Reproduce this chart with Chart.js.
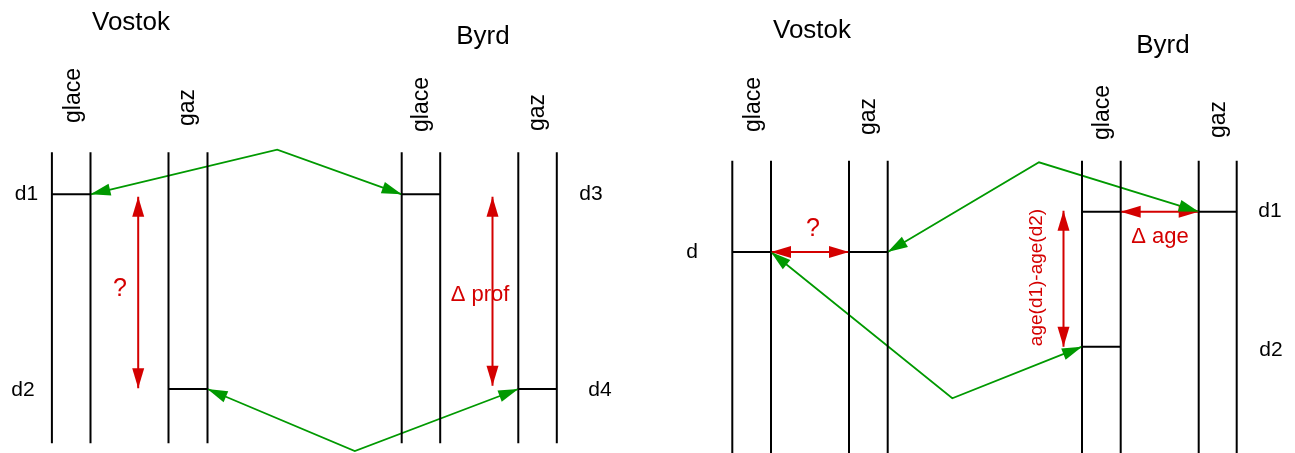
<!DOCTYPE html>
<html><head><meta charset="utf-8">
<script src="https://cdn.jsdelivr.net/npm/chart.js@4/dist/chart.umd.min.js"></script>
<style>html,body{margin:0;padding:0;background:#fff;overflow:hidden}#wrap{width:1295px;height:453px;position:relative}</style>
</head><body><div id="wrap"><canvas id="c" width="1295" height="453"></canvas></div>
<script>
// ---- diagram data (in diagram units: x across, y = depth downward) ----
const coresLeft = [51.9, 90.5, 168.5, 207.5, 401.7, 440.2, 518.3, 556.8];
const coresRight = [732.3, 771, 849, 887.7, 1082, 1120.7, 1198.7, 1236.7];
const coreSpanLeft = [152.3, 443.3];
const coreSpanRight = [160.7, 453];
// depth markers: [x1, x2, depth]
const markersLeft = [[51.9, 90.5, 194.3], [401.7, 440.2, 194.3], [168.5, 207.5, 389], [518.3, 556.8, 389]];
const markersRight = [[732.3, 771, 252], [849, 887.7, 252], [1082, 1120.7, 211.7], [1198.7, 1236.7, 211.7], [1082, 1120.7, 346.7]];
// green correlation paths (arrow at both ends)
const greenPaths = [
  [[90.5, 194.3], [277.2, 149.7], [401.7, 194.3]],
  [[207.5, 389], [354.8, 451], [518.3, 389]],
  [[887.7, 252], [1039, 162.3], [1198.7, 211.7]],
  [[771, 252], [952.3, 398.3], [1082, 346.7]]
];
// red double arrows
const redArrows = [
  [[138.2, 196.7], [138.2, 388.3]],
  [[492.5, 196.7], [492.5, 385.7]],
  [[771, 252], [849, 252]],
  [[1120.7, 211.7], [1198.7, 211.7]],
  [[1063.5, 210.7], [1063.5, 346.7]]
];
// text labels
const titleLabels = [['Vostok', 131, 30], ['Byrd', 483, 44], ['Vostok', 812, 38], ['Byrd', 1163, 53]];
const columnLabels = [['glace', 80, 123], ['gaz', 194, 126], ['glace', 428, 132], ['gaz', 544, 131],
                      ['glace', 759.5, 132], ['gaz', 875.3, 135], ['glace', 1108.5, 140], ['gaz', 1224.7, 138]];
const depthLabels = [['d1', 26.5, 194.5], ['d2', 23, 390], ['d3', 591, 194.5], ['d4', 600, 390],
                     ['d', 692, 252.5], ['d1', 1270, 211], ['d2', 1271, 350]];
const redLabels = [['?', 120, 289], ['\u0394 prof', 480, 295], ['?', 813, 229], ['\u0394 age', 1160, 236.5]];
const redRotLabels = [['age(d1)-age(d2)', 1041.5, 277.5]];

const BLACK = '#000000', GREEN = '#009900', RED = '#d40000';
const FONT = '"Liberation Sans", Arial, Helvetica, sans-serif';

const datasets = [];
function seg(points, color, width) {
  datasets.push({
    data: points.map(p => ({x: p[0], y: p[1]})),
    showLine: true, borderColor: color, borderWidth: width,
    pointRadius: 0, fill: false, tension: 0
  });
}
coresLeft.forEach(x => seg([[x, coreSpanLeft[0]], [x, coreSpanLeft[1]]], BLACK, 2));
coresRight.forEach(x => seg([[x, coreSpanRight[0]], [x, coreSpanRight[1]]], BLACK, 2));
markersLeft.concat(markersRight).forEach(m => seg([[m[0], m[2]], [m[1], m[2]]], BLACK, 2));
redArrows.forEach(a => seg(a, RED, 2));
greenPaths.forEach(p => seg(p, GREEN, 1.8));

function head(ctx, tip, from, color) {
  const dx = tip[0] - from[0], dy = tip[1] - from[1];
  const L = Math.hypot(dx, dy), ux = dx / L, uy = dy / L;
  const len = 20, hw = 6;
  const bx = tip[0] - ux * len, by = tip[1] - uy * len;
  ctx.beginPath();
  ctx.moveTo(tip[0], tip[1]);
  ctx.lineTo(bx - uy * hw, by + ux * hw);
  ctx.lineTo(bx + uy * hw, by - ux * hw);
  ctx.closePath();
  ctx.fillStyle = color;
  ctx.fill();
}

const decor = {
  id: 'decor',
  afterDatasetsDraw(chart) {
    const ctx = chart.ctx, sx = chart.scales.x, sy = chart.scales.y;
    const P = p => [sx.getPixelForValue(p[0]), sy.getPixelForValue(p[1])];
    ctx.save();
    redArrows.forEach(a => {
      const p0 = P(a[0]), p1 = P(a[1]);
      head(ctx, p0, p1, RED); head(ctx, p1, p0, RED);
    });
    greenPaths.forEach(p => {
      const n = p.length;
      head(ctx, P(p[0]), P(p[1]), GREEN);
      head(ctx, P(p[n - 1]), P(p[n - 2]), GREEN);
    });
    // texts
    ctx.fillStyle = BLACK;
    ctx.textAlign = 'center'; ctx.textBaseline = 'alphabetic';
    ctx.font = '26px ' + FONT;
    titleLabels.forEach(t => ctx.fillText(t[0], sx.getPixelForValue(t[1]), sy.getPixelForValue(t[2])));
    ctx.font = '23px ' + FONT;
    columnLabels.forEach(t => {
      ctx.save();
      ctx.translate(sx.getPixelForValue(t[1]), sy.getPixelForValue(t[2]));
      ctx.rotate(-Math.PI / 2);
      ctx.textAlign = 'left'; ctx.textBaseline = 'alphabetic';
      ctx.fillText(t[0], 0, 0);
      ctx.restore();
    });
    ctx.font = '21px ' + FONT;
    ctx.textBaseline = 'middle';
    depthLabels.forEach(t => ctx.fillText(t[0], sx.getPixelForValue(t[1]), sy.getPixelForValue(t[2])));
    ctx.fillStyle = RED;
    redLabels.forEach(t => {
      ctx.font = (t[0] === '?' ? '25px ' : '22px ') + FONT;
      ctx.fillText(t[0], sx.getPixelForValue(t[1]), sy.getPixelForValue(t[2]));
    });
    ctx.font = '19px ' + FONT;
    redRotLabels.forEach(t => {
      ctx.save();
      ctx.translate(sx.getPixelForValue(t[1]), sy.getPixelForValue(t[2]));
      ctx.rotate(-Math.PI / 2);
      ctx.textAlign = 'center'; ctx.textBaseline = 'alphabetic';
      ctx.fillText(t[0], 0, 0);
      ctx.restore();
    });
    ctx.restore();
  }
};

new Chart(document.getElementById('c'), {
  type: 'scatter',
  data: {datasets},
  options: {
    responsive: false, animation: false, events: [],
    layout: {padding: 0},
    plugins: {legend: {display: false}, tooltip: {enabled: false}},
    scales: {
      x: {type: 'linear', min: 0, max: 1295, display: false},
      y: {type: 'linear', min: 0, max: 453, reverse: true, display: false}
    }
  },
  plugins: [decor]
});
</script></body></html>
